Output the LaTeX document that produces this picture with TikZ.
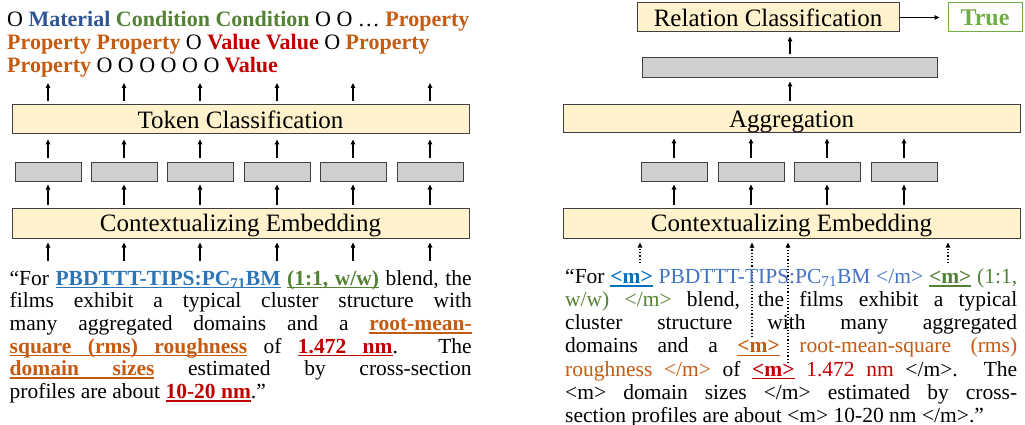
\documentclass[tikz,border=0pt]{standalone}
\usepackage{fontspec}
\setmainfont{Liberation Serif}
\usetikzlibrary{arrows.meta}
\definecolor{boxfill}{HTML}{FFF2CC}
\definecolor{grayfill}{HTML}{D0CECE}
\definecolor{edge}{HTML}{404040}
\definecolor{cmat}{HTML}{2F5597}
\definecolor{cgreen}{HTML}{548235}
\definecolor{corange}{HTML}{C55A11}
\definecolor{cred}{HTML}{C00000}
\definecolor{cblue}{HTML}{2E75B6}
\definecolor{cmblue}{HTML}{0070C0}
\definecolor{cpblue}{HTML}{4472C4}
\definecolor{ctrue}{HTML}{70AD47}
% underlined word and underlined stretchable space
\newcommand\uw[1]{\leavevmode\setbox0=\hbox{#1}\rlap{\vrule height -1.6pt depth 3.2pt width \wd0}\box0}
\newcommand\us{\leaders\hrule height -1.6pt depth 3.2pt\hskip\fontdimen2\font plus\fontdimen3\font minus\fontdimen4\font\relax}
\newcommand\hlu[2]{\textcolor{#1}{\bfseries #2}}
\newcommand\cb[2]{\textcolor{#1}{\textbf{#2}}}
\begin{document}
\begin{tikzpicture}[x=1pt,y=-1pt,
  ybox/.style={draw=edge, fill=boxfill, line width=1pt, inner sep=0pt,
    text height=20pt, text depth=2.5pt, font=\fontsize{25}{25}\selectfont},
  gbox/.style={draw=edge, fill=grayfill, line width=1pt, inner sep=0pt,
    minimum width=66pt, minimum height=19pt},
  arr/.style={line width=1.2pt, -{Triangle[length=5pt,width=4.5pt]}},
  darr/.style={line width=1.2pt, dotted, -{Triangle[length=5pt,width=4.5pt]}},
  lab/.style={anchor=base west, inner sep=0pt, font=\fontsize{22}{23}\selectfont},
  para/.style={anchor=base west, inner sep=0pt}]
\useasboundingbox (0,0) rectangle (1025,425);

% ---------------- left panel ----------------
\node[lab] (l1) at (7,27) {O \cb{cmat}{Material} \cb{cgreen}{Condition Condition} O O … \cb{corange}{Property}};
\node[lab] (l2) at (7,50) {\cb{corange}{Property Property} O \cb{cred}{Value Value} O \cb{corange}{Property}};
\node[lab] (l3) at (7,73) {\cb{corange}{Property} O O O O O O \cb{cred}{Value}};

\node[ybox, minimum width=457pt, minimum height=29pt] (tc) at (240.5,119.5) {Token Classification};
\node[ybox, minimum width=457pt, minimum height=30pt] (ce1) at (240.5,223) {Contextualizing Embedding};

\foreach \i/\x in {1/48,2/124,3/200,4/277,5/353,6/430} {
  \node[gbox] (g\i) at (\x,171.5) {};
  \coordinate (t\i) at (\x,83);
  \coordinate (b\i) at (\x,261);
  \draw[arr, shorten <=3pt] (tc.north -| g\i) -- (t\i);
  \draw[arr, shorten <=4pt, shorten >=5pt] (g\i.north) -- (tc.south -| g\i);
  \draw[arr, shorten <=3pt, shorten >=3pt] (ce1.north -| g\i) -- (g\i.south);
  \draw[arr, shorten >=4pt] (b\i) -- (ce1.south -| g\i);
}

\node[para] (p1) at (9.5,285) {\parbox[t]{462pt}{\fontsize{21.5}{22.7}\selectfont
\hyphenpenalty=10000 \exhyphenpenalty=10000 \tolerance=9999 \parindent=0pt
“For \hlu{cblue}{\uw{PBDTTT-TIPS:PC\textsubscript{71}BM}} \hlu{cgreen}{\uw{(1:1,}\us\uw{w/w)}} blend, the\linebreak
films exhibit a typical cluster structure with\linebreak
many aggregated domains and a \hlu{corange}{\uw{root-mean-}}\linebreak
\hlu{corange}{\uw{square}\us\uw{(rms)}\us\uw{roughness}} of \hlu{cred}{\uw{1.472}\us\uw{nm}}. The\linebreak
\hlu{corange}{\uw{domain}\us\uw{sizes}} estimated by cross-section\linebreak
profiles are about \hlu{cred}{\uw{10-20}\us\uw{nm}}.”}};

% ---------------- right panel ----------------
\node[ybox, minimum width=262pt, minimum height=29pt] (rc) at (768,17.5) {Relation Classification};
\node[draw=ctrue, line width=1pt, inner sep=0pt, minimum width=74pt, minimum height=29pt,
  text height=18pt, text depth=2pt, text=ctrue, font=\fontsize{24}{24}\selectfont\bfseries] (tr) at (985,17.5) {True};
\draw[arr, shorten >=8pt] (rc.east) -- (tr.west);

\node[draw=edge, fill=grayfill, line width=1pt, inner sep=0pt, minimum width=295pt, minimum height=20pt] (lg) at (790,68) {};
\draw[arr, shorten <=3pt, shorten >=4pt] (lg.north) -- (lg.north |- rc.south);

\node[ybox, minimum width=457pt, minimum height=28pt] (ag) at (791.5,119) {Aggregation};
\draw[arr, shorten <=3pt, shorten >=3pt] (ag.north -| lg) -- (lg.south);

\node[ybox, minimum width=457pt, minimum height=30pt] (ce2) at (791.5,223) {Contextualizing Embedding};

\foreach \i/\x in {1/674,2/751,3/827,4/904} {
  \node[gbox] (h\i) at (\x,171.5) {};
  \draw[arr, shorten <=4pt, shorten >=5pt] (h\i.north) -- (ag.south -| h\i);
  \draw[arr, shorten <=3pt, shorten >=3pt] (ce2.north -| h\i) -- (h\i.south);
}

\coordinate (d1) at (640,263);
\coordinate (d2) at (752,337);
\coordinate (d3) at (788,363);
\coordinate (d4) at (948,263);
\foreach \d in {d1,d2,d3,d4} {
  \draw[darr, shorten >=4pt] (\d) -- (ce2.south -| \d);
}

\node[para] (p2) at (565,283.3) {\parbox[t]{452pt}{\fontsize{21.5}{23.2}\selectfont
\hyphenpenalty=10000 \tolerance=9999 \parindent=0pt
“For \hlu{cmblue}{\uw{<m>}} \textcolor{cpblue}{PBDTTT-TIPS:PC\textsubscript{71}BM </m>} \hlu{cgreen}{\uw{<m>}} \textcolor{cgreen}{(1:1,\linebreak
w/w) </m>} blend, the films exhibit a typical\linebreak
cluster structure with many aggregated\linebreak
domains and a \hlu{corange}{\uw{<m>}} \textcolor{corange}{root-mean-square (rms)\linebreak
roughness </m>} of \hlu{cred}{\uw{<m>}} \textcolor{cred}{1.472 nm} </m>. The\linebreak
<m> domain sizes </m> estimated by cross-\linebreak
section profiles are about <m> 10-20 nm </m>.”}};
\end{tikzpicture}
\end{document}
